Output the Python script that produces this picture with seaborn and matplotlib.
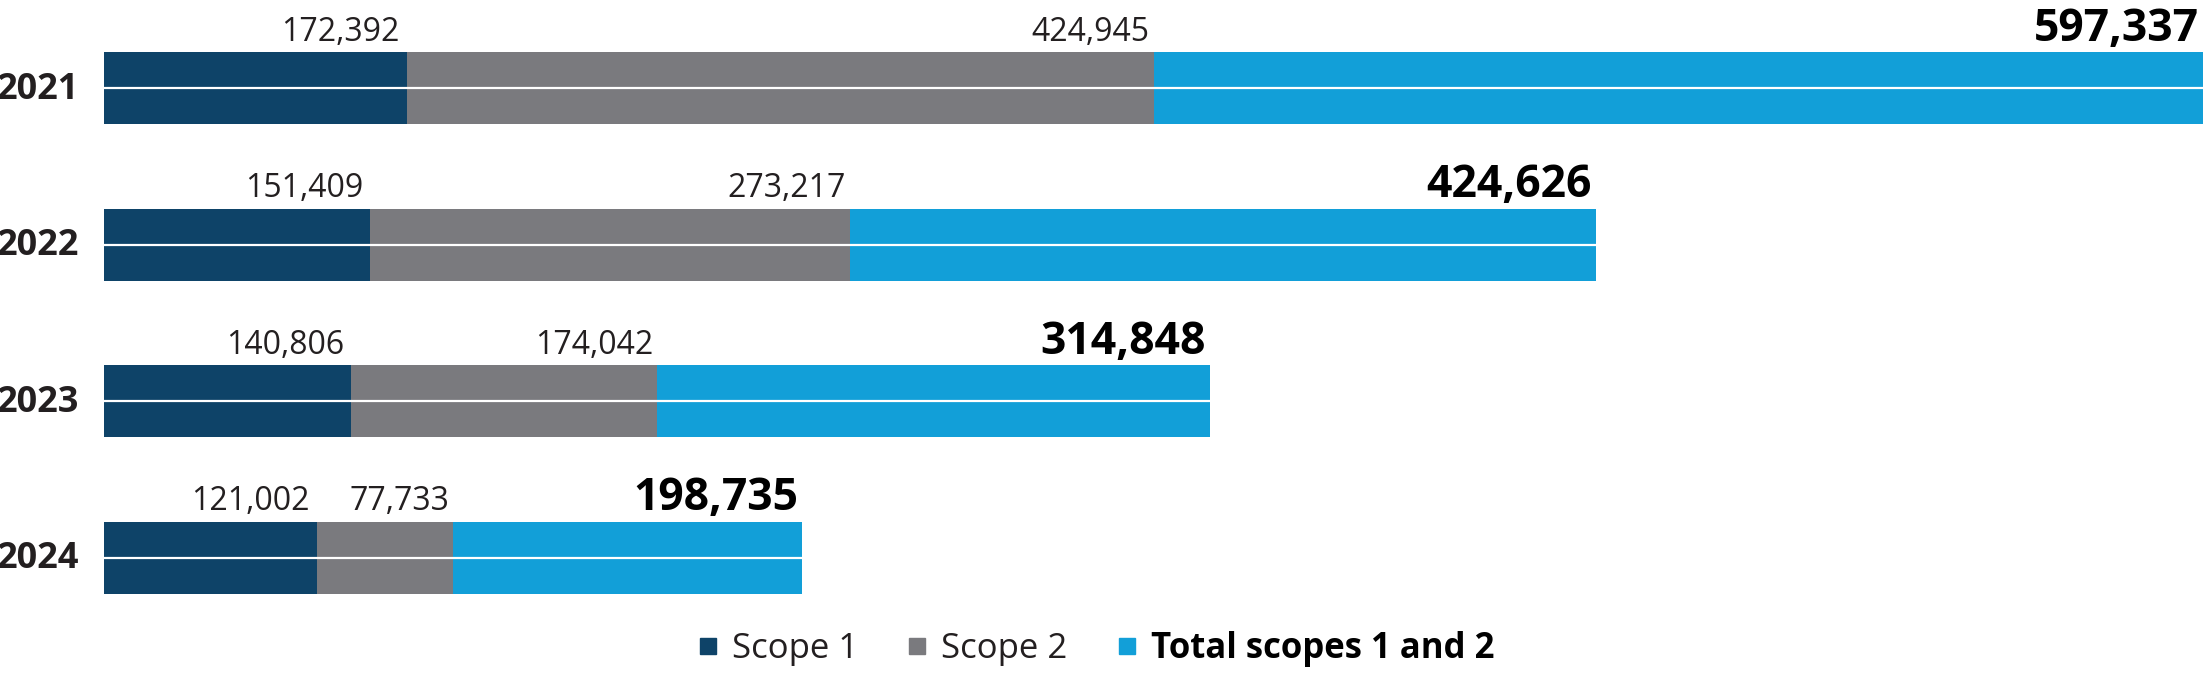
import matplotlib
matplotlib.use("Agg")
import matplotlib.pyplot as plt
import matplotlib.transforms as mtransforms
from matplotlib.lines import Line2D
import seaborn as sns
import pandas as pd

years = ["2021", "2022", "2023", "2024"]
scope1 = [172392, 151409, 140806, 121002]
scope2 = [424945, 273217, 174042, 77733]
total = [597337, 424626, 314848, 198735]
series_names = ["Scope 1", "Scope 2", "Total scopes 1 and 2"]
colors = ["#0E4368", "#7A7A7E", "#129FD8"]

sns.set_theme(style="white")
plt.rcParams["font.family"] = ["Open Sans", "DejaVu Sans"]

df = pd.DataFrame({"year": years, "scope1": scope1, "scope2": scope2, "total": total})
df["end1"] = df["scope1"]
df["end2"] = df["scope1"] + df["scope2"]
df["end3"] = df["end2"] + df["total"]

fig = plt.figure(figsize=(22.05, 6.73), dpi=100)
ax = fig.add_axes([104 / 2205, 0.0553, 1 - 104 / 2205, 0.9302])

for col, c in zip(["end3", "end2", "end1"], colors[::-1]):
    sns.barplot(data=df, x=col, y="year", order=years, color=c, width=0.46,
                orient="h", ax=ax, saturation=1, edgecolor="none")

xmax = df["end3"].max()
ax.set_xlim(0, xmax * 2101 / 2099)
ax.set_ylim(3.5, -0.5)

# white divider line through the middle of each bar
for i, e in enumerate(df["end3"]):
    ax.hlines(i, 0, e, color="white", linewidth=1.6)

# labels
for i in range(len(years)):
    ax.annotate(f"{scope1[i]:,}", (df["end1"][i], i - 0.23), xytext=(-5, 8),
                textcoords="offset points", ha="right", va="baseline",
                fontsize=23, color="#231F20")
    ax.annotate(f"{scope2[i]:,}", (df["end2"][i], i - 0.23), xytext=(-3, 8),
                textcoords="offset points", ha="right", va="baseline",
                fontsize=23, color="#231F20")
    ax.annotate(f"{total[i]:,}", (df["end3"][i], i - 0.23), xytext=(-3, 8),
                textcoords="offset points", ha="right", va="baseline",
                fontsize=32, fontweight="bold", color="#000000")

ax.set_xlabel("")
ax.set_ylabel("")
ax.set_xticks([])
ax.tick_params(axis="y", length=0, pad=18)
shift = mtransforms.ScaledTranslation(0, 0.03, fig.dpi_scale_trans)
for t in ax.get_yticklabels():
    t.set_fontsize(26)
    t.set_fontweight("bold")
    t.set_color("#231F20")
    t.set_transform(t.get_transform() + shift)
sns.despine(ax=ax, left=True, bottom=True)

handles = [Line2D([0], [0], marker="s", linestyle="none", markersize=12,
                  markerfacecolor=c, markeredgecolor=c) for c in colors]
leg = fig.legend(handles, series_names, loc="center", bbox_to_anchor=(0.497, 0.035),
                 ncol=3, frameon=False, fontsize=25, handlelength=0.6,
                 handletextpad=0.4, columnspacing=1.4, borderpad=0)
for t in leg.get_texts():
    t.set_color("#231F20")
leg.get_texts()[2].set_fontweight("bold")
leg.get_texts()[2].set_color("#000000")

fig.savefig("out.png", dpi=100)
